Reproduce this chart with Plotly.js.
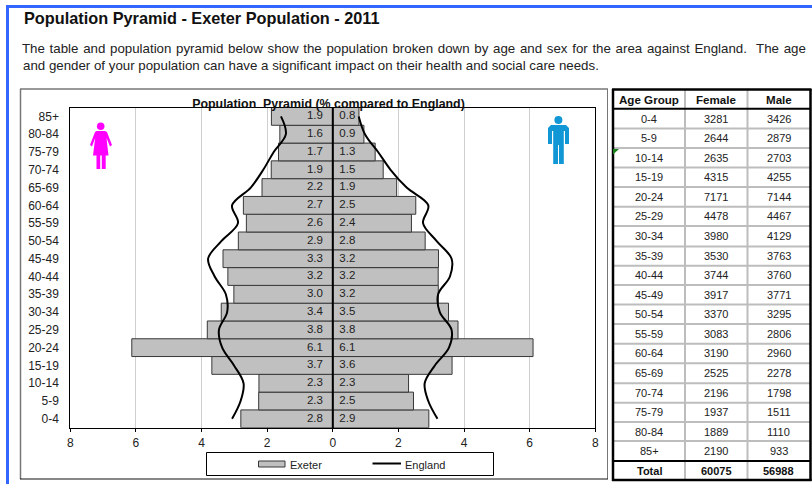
<!DOCTYPE html>
<html><head><meta charset="utf-8">
<script src="https://cdn.plot.ly/plotly-3.0.1.min.js"></script>
<style>html,body{margin:0;padding:0;background:#fff;overflow:hidden}
g.annotation[data-index="1"] text{word-spacing:1px}</style>
</head><body><div id="chart" style="width:812px;height:484px"></div>
<script>
const ages = ["0-4","5-9","10-14","15-19","20-24","25-29","30-34","35-39","40-44","45-49","50-54","55-59","60-64","65-69","70-74","75-79","80-84","85+"];
const exeterFemale = [2.803,2.259,2.251,3.686,6.126,3.825,3.400,3.015,3.198,3.346,2.879,2.634,2.725,2.157,1.876,1.655,1.614,1.871];
const exeterMale   = [2.927,2.459,2.309,3.635,6.103,3.816,3.527,3.215,3.212,3.221,2.815,2.397,2.529,1.946,1.536,1.291,0.948,0.797];
const englandFemale = [3.07,2.81,2.72,3.01,3.37,3.47,3.22,3.26,3.60,3.80,3.39,2.89,3.07,2.50,2.12,1.80,1.43,1.58];
const englandMale   = [3.19,2.91,2.80,3.11,3.54,3.62,3.26,3.21,3.57,3.62,3.16,2.75,2.91,2.25,1.76,1.38,0.98,0.79];
const tableFemale = [3281,2644,2635,4315,7171,4478,3980,3530,3744,3917,3370,3083,3190,2525,2196,1937,1889,2190];
const tableMale   = [3426,2879,2703,4255,7144,4467,4129,3763,3760,3771,3295,2806,2960,2278,1798,1511,1110,933];
const tableHeader = ["Age Group","Female","Male"];
const tableTotal  = ["Total","60075","56988"];
const xTicks = [-8,-6,-4,-2,0,2,4,6,8];
const pageTitle = "Population Pyramid - Exeter Population - 2011";
const introLine1 = "The table and population pyramid below show the population broken down by age and sex for the area against England.  The age";
const introLine2 = "and gender of your population can have a significant impact on their health and social care needs.";
const chartTitle = "Population  Pyramid (% compared to England)";

const W=812,H=484,FONT='"Liberation Sans",Arial,sans-serif',INK='#222';
const px=x=>x/W, py=y=>1-y/H;
const barStyle={color:'#c0c0c0',line:{color:'#383838',width:1}};
const traces=[
 {type:'bar',orientation:'h',y:ages,x:exeterFemale.map(v=>-v),marker:barStyle,name:'Exeter',showlegend:false,hoverinfo:'skip'},
 {type:'bar',orientation:'h',y:ages,x:exeterMale,marker:barStyle,name:'Exeter',showlegend:false,hoverinfo:'skip'},
 {type:'scatter',mode:'text',y:ages,x:ages.map(()=>-0.3),text:exeterFemale.map(v=>v.toFixed(1)),textposition:'middle left',textfont:{family:FONT,size:11.5,color:INK},showlegend:false,hoverinfo:'skip',cliponaxis:false},
 {type:'scatter',mode:'text',y:ages,x:ages.map(()=>0.2),text:exeterMale.map(v=>v.toFixed(1)),textposition:'middle right',textfont:{family:FONT,size:11.5,color:INK},showlegend:false,hoverinfo:'skip',cliponaxis:false},
 {type:'scatter',mode:'lines',y:ages,x:englandFemale.map(v=>-v),line:{color:'#000',width:2,shape:'spline',smoothing:1},name:'England',showlegend:false,hoverinfo:'skip'},
 {type:'scatter',mode:'lines',y:ages,x:englandMale,line:{color:'#000',width:2,shape:'spline',smoothing:1},name:'England',showlegend:false,hoverinfo:'skip'}
];
const shapes=[],annotations=[];
function hline(x0,x1,y,c,w){shapes.push({type:'line',xref:'paper',yref:'paper',x0:px(x0),x1:px(x1),y0:py(y),y1:py(y),line:{color:c,width:w}});}
function vline(x,y0,y1,c,w){shapes.push({type:'line',xref:'paper',yref:'paper',x0:px(x),x1:px(x),y0:py(y0),y1:py(y1),line:{color:c,width:w}});}
function poly(points,fill){
 const d=points.map((p,i)=>(i?'L':'M')+px(p[0]).toFixed(5)+','+py(p[1]).toFixed(5)).join(' ')+' Z';
 shapes.push({type:'path',xref:'paper',yref:'paper',path:d,fillcolor:fill,line:{width:0}});
}
function circle(cx,cy,r,fill){shapes.push({type:'circle',xref:'paper',yref:'paper',x0:px(cx-r),x1:px(cx+r),y0:py(cy+r),y1:py(cy-r),fillcolor:fill,line:{width:0}});}
function label(t,x,y,anchor,size,bold,color){annotations.push({text:bold?'<b>'+t+'</b>':t,xref:'paper',yref:'paper',x:px(x),y:py(y),xanchor:anchor,yanchor:'middle',showarrow:false,borderpad:0,font:{family:FONT,size:size,color:color||INK}});}

// page frame
shapes.push({type:'rect',xref:'paper',yref:'paper',x0:px(6),x1:px(9),y0:py(484),y1:py(5),fillcolor:'#3366ff',line:{width:0}});
shapes.push({type:'rect',xref:'paper',yref:'paper',x0:px(6),x1:px(812),y0:py(8),y1:py(5),fillcolor:'#3366ff',line:{width:0}});
label(pageTitle,23,18.5,'left',16.3,true,'#111');
label(introLine1,32,48.5,'left',13.3,false);
label(introLine2,22,65.5,'left',13.3,false);
// chart frame
hline(20,608,89,'#777',1.5);vline(20.5,89,479,'#777',1.5);vline(607.5,89,479,'#777',1);hline(20,608,479,'#111',1);
// zero axis
shapes.push({type:'line',xref:'x',yref:'paper',x0:0,x1:0,y0:py(428),y1:py(107.5),line:{color:'#000',width:2}});
// legend
shapes.push({type:'rect',xref:'paper',yref:'paper',x0:px(206.5),x1:px(493.5),y0:py(475.5),y1:py(452.5),fillcolor:'#fff',line:{color:'#000',width:1}});
shapes.push({type:'rect',xref:'paper',yref:'paper',x0:px(258.5),x1:px(285),y0:py(467),y1:py(461),fillcolor:'#c0c0c0',line:{color:'#383838',width:1}});
hline(372.5,401,463.5,'#000',2);
label('Exeter',288.5,465,'left',11,false);label('England',403.5,465,'left',11,false);
// icons
const PINK='#ff00ff',BLUE='#1197d5';
circle(100.7,126.3,3.8,PINK);
poly([[96.5,131],[105,131],[107,132],[112,145],[110,146.5],[106.5,138],[108.5,155.5],[105.7,155.5],[105.7,169],[101.8,169],[101.8,155.5],[100.2,155.5],[100.2,169],[96.5,169],[96.5,155.5],[93,155.5],[95.2,138],[92,146.5],[90,145],[95,132]],PINK);
circle(558.4,120,4,BLUE);
poly([[551,125],[566,125],[569,128],[569,144],[565,144],[565,131],[563.8,131],[563.8,164],[559,164],[559,145],[558,145],[558,164],[553.2,164],[553.2,131],[552,131],[552,144],[548,144],[548,128]],BLUE);
// table
const rowCentres=[119,138.3,158,177.3,197,216.3,236,256,275,295,314.3,334,353.3,373,393,412.3,432,451.3];
const rowLines=[128.5,148,167.5,187,206.7,226,246.5,265.7,285,304.5,324,343.7,363.3,383.3,402.7,422,441];
const cols=[649,716,778.5];
rowLines.forEach(y=>hline(613,811,y,'#bdbdbd',2));
vline(685,90,480,'#bdbdbd',2);vline(747.5,90,480,'#bdbdbd',2);
hline(612,811,108.7,'#000',2);hline(612,811,461,'#000',2);
hline(612,811.5,89.5,'#000',2.5);hline(612,811.5,480,'#000',2.5);
vline(613,89,481,'#000',2.5);vline(810.5,89,481,'#000',2.5);
poly([[613,149],[619,149],[613,154.5]],'#1a7f1a');
tableHeader.forEach((t,i)=>label(t,cols[i],99.5,'center',11.6,true,'#111'));
ages.forEach((a,i)=>{
 label(a,cols[0],rowCentres[i],'center',11,false);
 label(String(tableFemale[i]),cols[1],rowCentres[i],'center',11,false);
 label(String(tableMale[i]),cols[2],rowCentres[i],'center',11,false);
});
tableTotal.forEach((t,i)=>label(t,cols[i],471,'center',11,true,'#111'));

const layout={
 width:W,height:H,margin:{l:0,r:0,t:0,b:0,pad:0},paper_bgcolor:'#fff',plot_bgcolor:'#fff',
 barmode:'overlay',bargap:0,showlegend:false,
 title:{text:'<b>'+chartTitle+'</b>',x:px(328.5),xanchor:'center',y:py(103.5),yanchor:'middle',font:{family:FONT,size:12.4,color:'#111'}},
 xaxis:{domain:[px(70.3),px(595.3)],range:[-8,8],tickvals:xTicks,ticktext:xTicks.map(v=>String(Math.abs(v))),ticks:'outside',ticklen:3,tickcolor:'#000',tickwidth:1,ticklabelstandoff:1,showgrid:true,gridcolor:'#cfcfcf',gridwidth:1,zeroline:false,showline:true,mirror:true,linecolor:'#000',linewidth:1,tickfont:{family:FONT,size:12,color:INK},anchor:'y'},
 yaxis:{domain:[py(427.7),py(107.5)],type:'category',categoryorder:'array',categoryarray:ages,range:[-0.5,17.5],ticks:'',ticklabelstandoff:8,showgrid:false,zeroline:false,showline:true,mirror:true,linecolor:'#000',linewidth:1,tickfont:{family:FONT,size:12,color:INK},anchor:'x'},
 shapes:shapes,annotations:annotations
};
Plotly.newPlot('chart',traces,layout,{staticPlot:true,displayModeBar:false});
</script></body></html>
